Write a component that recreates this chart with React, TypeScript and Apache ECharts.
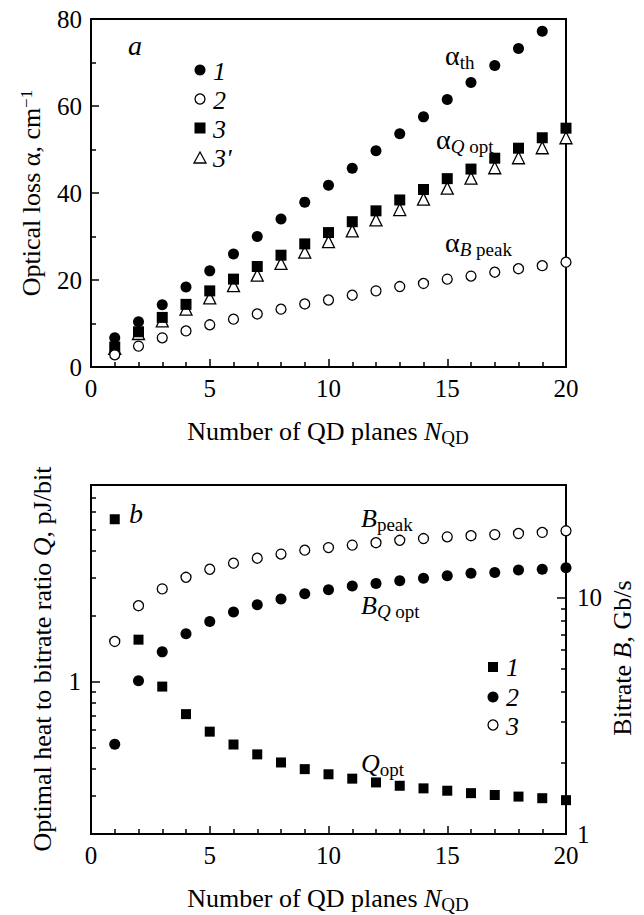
import React, { useEffect, useRef } from 'react';
import * as echarts from 'echarts';

const FONT = "'Liberation Serif', 'Times New Roman', 'DejaVu Serif', serif";

// ---- panel a: optical loss vs number of QD planes
const nQD = [1, 2, 3, 4, 5, 6, 7, 8, 9, 10, 11, 12, 13, 14, 15, 16, 17, 18, 19, 20];
const alphaTh = [6.7, 10.4, 14.3, 18.4, 22.1, 26.0, 30.0, 34.0, 37.9, 41.8, 45.7, 49.7, 53.6, 57.5, 61.5, 65.4, 69.3, 73.2, 77.2];
const alphaBpeak = [2.8, 4.8, 6.7, 8.3, 9.7, 11.0, 12.2, 13.3, 14.5, 15.4, 16.5, 17.5, 18.5, 19.2, 20.2, 20.9, 21.8, 22.6, 23.3, 24.1];
const alphaQopt = [4.6, 8.1, 11.4, 14.4, 17.5, 20.2, 23.1, 25.7, 28.3, 30.9, 33.4, 35.9, 38.4, 40.8, 43.3, 45.5, 48.0, 50.3, 52.7, 54.9];
const alphaQopt3p = [4.3, 7.7, 10.6, 13.3, 15.9, 18.7, 21.1, 23.8, 26.4, 28.8, 31.3, 33.8, 36.2, 38.6, 41.1, 43.4, 45.8, 48.1, 50.4, 52.7];

// ---- panel b: heat-to-bitrate ratio and bitrate
const qOpt = [5.57, 1.56, 0.95, 0.71, 0.59, 0.515, 0.464, 0.426, 0.397, 0.376, 0.359, 0.345, 0.333, 0.324, 0.316, 0.308, 0.302, 0.297, 0.292, 0.286];
const bQopt = [2.4, 4.45, 5.9, 7.04, 7.94, 8.7, 9.34, 9.87, 10.4, 10.8, 11.2, 11.5, 11.8, 12.1, 12.4, 12.7, 12.8, 13.1, 13.2, 13.4];
const bPeak = [6.53, 9.25, 10.9, 12.2, 13.2, 14.0, 14.7, 15.3, 15.9, 16.3, 16.7, 17.1, 17.5, 17.8, 18.1, 18.3, 18.5, 18.7, 18.9, 19.2];

// ticks
const qMinorTicks = [0.3, 0.4, 0.5, 0.6, 0.7, 0.8, 0.9, 2, 3, 4, 5, 6, 7];
const qMajorTicks = [1];
const qLabels = [1];
const bMinorTicks = [2, 3, 4, 5, 6, 7, 8, 9];
const bMajorTicks = [10];
const bLabels = [1, 10];

const pairs = (ys: number[]) => ys.map((v, i) => [nQD[i], v]);

const black = '#000';
const axisLine = { show: true, onZero: false, lineStyle: { color: black, width: 2 } };
const tickLbl = { color: black, fontFamily: FONT, fontSize: 25 };

export default function App() {
  const ref = useRef<HTMLDivElement>(null);
  useEffect(() => {
    if (!ref.current) return;
    const chart = echarts.init(ref.current, null, { renderer: 'svg' });
    const xAxisBase = (gridIndex: number) => ({
      type: 'value',
      gridIndex,
      min: 0,
      max: 20,
      interval: 5,
      axisLine,
      axisTick: { show: true, inside: true, length: 8, lineStyle: { color: black, width: 1.5 } },
      minorTick: { show: true, splitNumber: 5, length: 5, lineStyle: { color: black, width: 1.5 } },
      splitLine: { show: false },
      axisLabel: { ...tickLbl, margin: 9 },
    });
    const openStyle = { color: '#fff', borderColor: black, borderWidth: 1.3, opacity: 1 };
    const fillStyle = { color: black, opacity: 1 };
    const txt = (x: number, y: number, text: string, rich: any, extra: any = {}) => ({
      type: 'text',
      x,
      y,
      silent: true,
      ...extra,
      style: {
        text,
        fill: black,
        fontFamily: FONT,
        fontSize: 26,
        align: extra.align || 'left',
        verticalAlign: 'middle',
        rich,
      },
    });
    const richBase = {
      m: { fontFamily: FONT, fontSize: 26, lineHeight: 32, fill: black },
      mi: { fontFamily: FONT, fontSize: 26, fontStyle: 'italic', lineHeight: 32, fill: black },
      al: { fontFamily: FONT, fontSize: 28, lineHeight: 34, fill: black },
      sub: { fontFamily: FONT, fontSize: 19, lineHeight: 19, verticalAlign: 'bottom', fill: black },
      subi: { fontFamily: FONT, fontSize: 19, fontStyle: 'italic', lineHeight: 19, verticalAlign: 'bottom', fill: black },
      sup: { fontFamily: FONT, fontSize: 17, lineHeight: 17, verticalAlign: 'top', fill: black },
    };
    const italic26 = (x: number, y: number, t: string, size = 26) => ({
      type: 'text',
      x,
      y,
      silent: true,
      style: { text: t, fill: black, fontFamily: FONT, fontSize: size, fontStyle: 'italic', align: 'left', verticalAlign: 'middle' },
    });

    chart.setOption({
      animation: false,
      backgroundColor: '#fff',
      textStyle: { fontFamily: FONT },
      grid: [
        { left: 91, top: 19, width: 475, height: 348, show: true, borderColor: black, borderWidth: 2, backgroundColor: 'transparent' },
        { left: 91, top: 485, width: 475, height: 349, show: true, borderColor: black, borderWidth: 2, backgroundColor: 'transparent' },
      ],
      xAxis: [xAxisBase(0), xAxisBase(1)],
      yAxis: [
        {
          type: 'value',
          gridIndex: 0,
          min: 0,
          max: 80,
          interval: 20,
          axisLine,
          axisTick: { show: true, inside: true, length: 8, lineStyle: { color: black, width: 1.5 } },
          minorTick: { show: true, splitNumber: 2, length: 5, lineStyle: { color: black, width: 1.5 } },
          splitLine: { show: false },
          axisLabel: { ...tickLbl, margin: 9 },
        },
        {
          type: 'log',
          logBase: 10,
          gridIndex: 1,
          position: 'left',
          offset: 0,
          min: 0.2,
          max: 8,
          axisLine,
          axisTick: { show: true, inside: true, length: 5, customValues: qMinorTicks, lineStyle: { color: black, width: 1.5 } },
          splitLine: { show: false },
          minorTick: { show: false },
          axisLabel: { ...tickLbl, margin: 10, customValues: qLabels },
        },
        {
          type: 'log',
          logBase: 10,
          gridIndex: 1,
          position: 'left',
          offset: 0,
          min: 0.2,
          max: 8,
          axisLine: { show: false },
          axisTick: { show: true, inside: true, length: 9, customValues: qMajorTicks, lineStyle: { color: black, width: 1.5 } },
          splitLine: { show: false },
          axisLabel: { show: false },
        },
        {
          type: 'log',
          logBase: 10,
          gridIndex: 1,
          position: 'right',
          offset: 0,
          min: 1,
          max: 30,
          axisLine,
          axisTick: { show: true, inside: true, length: 5, customValues: bMinorTicks, lineStyle: { color: black, width: 1.5 } },
          splitLine: { show: false },
          minorTick: { show: false },
          axisLabel: { ...tickLbl, margin: 11, customValues: bLabels },
        },
        {
          type: 'log',
          logBase: 10,
          gridIndex: 1,
          position: 'right',
          offset: 0,
          min: 1,
          max: 30,
          axisLine: { show: false },
          axisTick: { show: true, inside: true, length: 9, customValues: bMajorTicks, lineStyle: { color: black, width: 1.5 } },
          splitLine: { show: false },
          axisLabel: { show: false },
        },
      ],
      series: [
        { name: "3'", type: 'scatter', xAxisIndex: 0, yAxisIndex: 0, symbol: 'triangle', symbolSize: 12, itemStyle: openStyle, data: pairs(alphaQopt3p) },
        { name: '3', type: 'scatter', xAxisIndex: 0, yAxisIndex: 0, symbol: 'rect', symbolSize: 11, itemStyle: fillStyle, data: pairs(alphaQopt) },
        { name: '2', type: 'scatter', xAxisIndex: 0, yAxisIndex: 0, symbol: 'circle', symbolSize: 10, itemStyle: openStyle, data: pairs(alphaBpeak) },
        { name: '1', type: 'scatter', xAxisIndex: 0, yAxisIndex: 0, symbol: 'circle', symbolSize: 11, itemStyle: fillStyle, data: pairs(alphaTh) },
        { name: 'Q opt', type: 'scatter', xAxisIndex: 1, yAxisIndex: 1, symbol: 'rect', symbolSize: 10, itemStyle: fillStyle, data: pairs(qOpt) },
        { name: 'B Q opt', type: 'scatter', xAxisIndex: 1, yAxisIndex: 3, symbol: 'circle', symbolSize: 11, itemStyle: fillStyle, data: pairs(bQopt) },
        { name: 'B peak', type: 'scatter', xAxisIndex: 1, yAxisIndex: 3, symbol: 'circle', symbolSize: 10, itemStyle: openStyle, data: pairs(bPeak) },
      ],
      graphic: [
        // axis titles
        txt(328, 431, 'Number of QD planes {mi|N}{sub|QD}', richBase, { align: 'center' }),
        txt(328, 898, 'Number of QD planes {mi|N}{sub|QD}', richBase, { align: 'center' }),
        txt(31, 193, 'Optical loss α, cm{sup|−1}', richBase, { align: 'center', rotation: Math.PI / 2 }),
        txt(42, 659, 'Optimal heat to bitrate ratio {mi|Q}, pJ/bit', richBase, { align: 'center', rotation: Math.PI / 2 }),
        txt(622, 658, 'Bitrate {mi|B}, Gb/s', richBase, { align: 'center', rotation: Math.PI / 2 }),
        // panel letters
        italic26(128, 45, 'a', 28),
        italic26(129, 513, 'b', 28),
        // panel a legend
        { type: 'circle', silent: true, shape: { cx: 200, cy: 70, r: 5.5 }, style: { fill: black } },
        { type: 'circle', silent: true, shape: { cx: 200, cy: 99, r: 5 }, style: { fill: '#fff', stroke: black, lineWidth: 1.3 } },
        { type: 'rect', silent: true, shape: { x: 194.5, y: 122.5, width: 11, height: 11 }, style: { fill: black } },
        { type: 'polygon', silent: true, shape: { points: [[200, 152], [206, 163], [194, 163]] }, style: { fill: '#fff', stroke: black, lineWidth: 1.3 } },
        italic26(213, 71, '1'),
        italic26(213, 100, '2'),
        italic26(213, 129, '3'),
        italic26(213, 158, "3'"),
        // panel b legend
        { type: 'rect', silent: true, shape: { x: 488, y: 662, width: 10, height: 10 }, style: { fill: black } },
        { type: 'circle', silent: true, shape: { cx: 493, cy: 697, r: 5.5 }, style: { fill: black } },
        { type: 'circle', silent: true, shape: { cx: 493, cy: 725, r: 5 }, style: { fill: '#fff', stroke: black, lineWidth: 1.3 } },
        italic26(506, 667, '1'),
        italic26(506, 697, '2'),
        italic26(506, 726, '3'),
        // curve labels
        txt(445, 55, '{al|α}{sub|th}', richBase),
        txt(436, 139, '{al|α}{subi|Q}{sub| opt}', richBase),
        txt(445, 242, '{al|α}{subi|B}{sub| peak}', richBase),
        txt(361, 518, '{mi|B}{sub|peak}', richBase),
        txt(361, 605, '{mi|B}{subi|Q}{sub| opt}', richBase),
        txt(361, 763, '{mi|Q}{sub|opt}', richBase),
      ],
    });
    return () => chart.dispose();
  }, []);
  return (
    <div
      ref={ref}
      style={{ position: 'absolute', left: 0, top: 0, width: 644, height: 915, background: '#fff' }}
    />
  );
}
